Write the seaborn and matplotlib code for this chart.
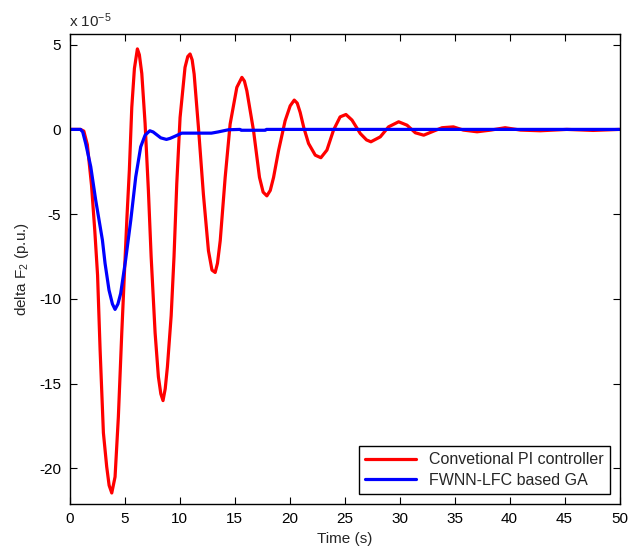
import matplotlib
matplotlib.use("Agg")
import matplotlib.pyplot as plt
import seaborn as sns
import pandas as pd

# Time (s) and deviation values (in units of 1e-5 p.u.)
pi_time = [0, 0.5, 1.0, 1.3, 1.62, 2.0, 2.3, 2.55, 2.78, 3.08, 3.38, 3.6, 3.84,
           4.14, 4.44, 4.75, 4.99, 5.22, 5.44, 5.66, 5.9, 6.17, 6.35, 6.57, 6.87,
           7.17, 7.42, 7.78, 8.08, 8.3, 8.5, 8.7, 8.9, 9.24, 9.5, 9.75, 10.05,
           10.5, 10.75, 10.96, 11.15, 11.33, 11.72, 12.17, 12.63, 12.95, 13.24,
           13.45, 13.7, 14.15, 14.6, 15.21, 15.67, 15.9, 16.12, 16.73, 17.27,
           17.6, 17.94, 18.25, 18.55, 19.0, 19.6, 20.06, 20.43, 20.7, 20.97,
           21.3, 21.73, 22.34, 22.85, 23.4, 24.0, 24.6, 25.13, 25.68, 26.43,
           27.0, 27.4, 28.25, 29.0, 29.92, 30.68, 31.44, 32.2, 33.1, 33.87,
           34.9, 35.8, 37.05, 38.3, 39.6, 41.0, 42.8, 45.2, 47.6, 50.0]
pi_dev = [0, 0, 0, -0.1, -0.9, -3.3, -6.0, -8.6, -13.0, -17.9, -19.9, -21.0,
          -21.45, -20.5, -16.96, -12.0, -8.5, -5.2, -2.4, 1.3, 3.6, 4.75, 4.4,
          3.3, 0.35, -3.6, -7.5, -12.0, -14.6, -15.6, -16.0, -15.3, -14.0,
          -11.0, -7.5, -3.2, 0.7, 3.66, 4.3, 4.45, 4.1, 3.26, 0.12, -3.82,
          -7.16, -8.3, -8.44, -7.9, -6.57, -2.83, 0.31, 2.48, 3.07, 2.85, 2.28,
          -0.08, -2.83, -3.7, -3.92, -3.6, -2.83, -1.26, 0.51, 1.39, 1.73, 1.55,
          1.0, 0.1, -0.83, -1.52, -1.67, -1.22, -0.04, 0.74, 0.88, 0.55, -0.24,
          -0.62, -0.73, -0.44, 0.15, 0.45, 0.25, -0.2, -0.34, -0.1, 0.1, 0.15,
          -0.04, -0.14, -0.04, 0.1, -0.04, -0.08, 0.0, -0.06, 0.0]

ga_time = [0, 1.0, 1.2, 1.47, 1.93, 2.38, 2.99, 3.23, 3.59, 3.9, 4.14, 4.4,
           4.65, 5.1, 5.57, 6.02, 6.47, 6.87, 7.3, 7.6, 7.9, 8.3, 8.81, 9.14,
           9.6, 10.2, 12.9, 13.5, 14.45, 15.5, 15.6, 17.8, 17.9, 50.0]
ga_dev = [0, 0, -0.15, -0.83, -2.2, -4.17, -6.53, -7.9, -9.48, -10.3, -10.62,
          -10.3, -9.68, -7.7, -5.35, -2.8, -1.03, -0.34, -0.08, -0.15, -0.3,
          -0.5, -0.59, -0.53, -0.4, -0.22, -0.22, -0.15, -0.02, 0.0, -0.05,
          -0.05, 0.0, 0.0]

series_names = ["Convetional PI controller", "FWNN-LFC based GA"]
x_ticks = [0, 5, 10, 15, 20, 25, 30, 35, 40, 45, 50]
y_ticks = [-20, -15, -10, -5, 0, 5]

df = pd.concat([
    pd.DataFrame({"t": pi_time, "v": pi_dev, "s": series_names[0]}),
    pd.DataFrame({"t": ga_time, "v": ga_dev, "s": series_names[1]}),
], ignore_index=True)

sns.set_style("ticks")
plt.rcParams["font.family"] = ["Liberation Sans", "DejaVu Sans"]
plt.rcParams["mathtext.default"] = "regular"
plt.rcParams["axes.unicode_minus"] = False

fig = plt.figure(figsize=(6.28, 5.51), dpi=100)
ax = fig.add_axes([0.1107, 0.0853, 0.8758, 0.8521])

sns.lineplot(data=df, x="t", y="v", hue="s", palette=["#ff0000", "#0000ff"],
             linewidth=2.3, sort=False, estimator=None, ax=ax)

ax.set_xlim(0, 50)
ax.set_ylim(-22.1, 5.6)
ax.set_xticks(x_ticks)
ax.set_yticks(y_ticks)
ax.set_xticklabels([str(v) for v in x_ticks])
ax.set_yticklabels([str(v) for v in y_ticks])
ax.tick_params(direction="in", length=5, width=0.8, top=True, right=True,
               labelsize=11, pad=6, colors="black")
for sp in ax.spines.values():
    sp.set_visible(True)
    sp.set_linewidth(1.0)
    sp.set_color("black")

ax.set_xlabel("Time (s)", fontsize=11, labelpad=4)
ax.set_ylabel("delta F$_2$ (p.u.)", fontsize=11, labelpad=6)

fig.text(69 / 628, 1 - 27 / 551, "x 10$^{-5}$", fontsize=11, ha="left",
         va="baseline")

leg = ax.legend(loc="lower right", fontsize=11.5, frameon=True, fancybox=False,
                edgecolor="black", framealpha=1, handlelength=3.2,
                borderaxespad=0.6, borderpad=0.4, labelspacing=0.35)
leg.get_frame().set_linewidth(1.0)
leg.set_title(None)

fig.savefig("out.png", dpi=100)
